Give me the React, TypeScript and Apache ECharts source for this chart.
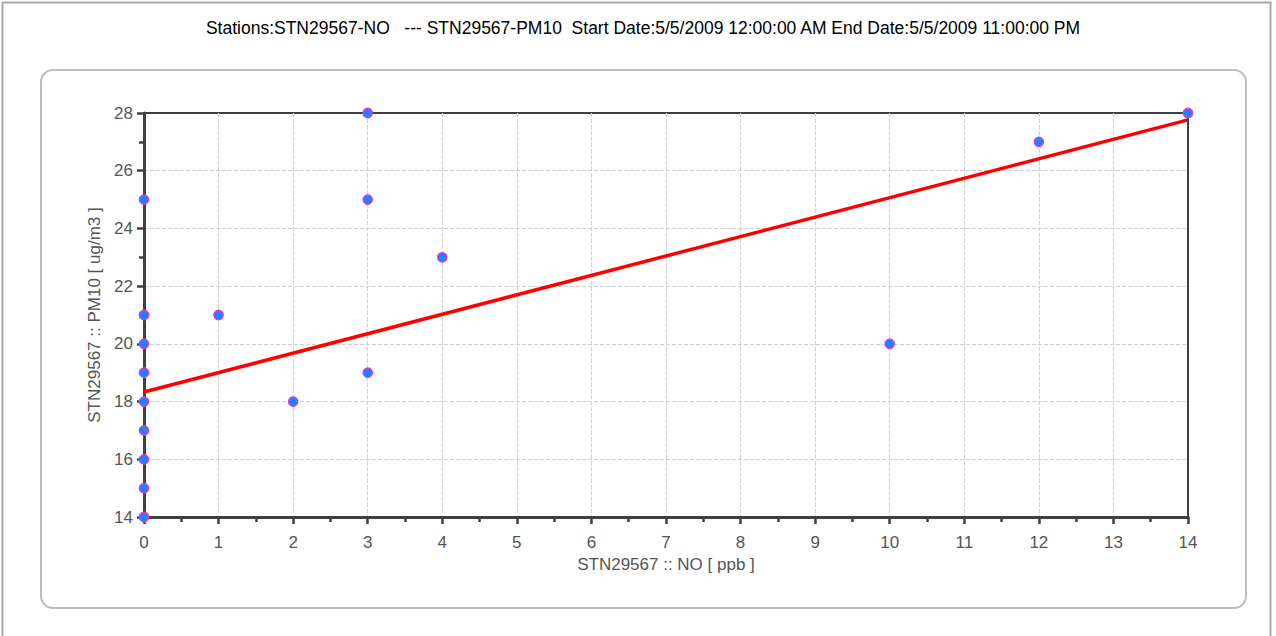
import React, { useEffect, useRef } from "react";
import * as echarts from "echarts";

const titleText =
  "Stations:STN29567-NO   --- STN29567-PM10  Start Date:5/5/2009 12:00:00 AM End Date:5/5/2009 11:00:00 PM";
const xAxisName = "STN29567 :: NO [ ppb ]";
const yAxisName = "STN29567 :: PM10 [ ug/m3 ]";

const noValues = [0, 0, 0, 0, 0, 0, 0, 0, 0, 1, 2, 3, 3, 3, 4, 10, 12, 14];
const pm10Values = [14, 15, 16, 17, 18, 19, 20, 21, 25, 21, 18, 19, 25, 28, 23, 20, 27, 28];

const trendX = [0, 14];
const trendY = [18.33, 27.76];

export default function App() {
  const ref = useRef<HTMLDivElement>(null);
  useEffect(() => {
    document.body.style.margin = "0";
    const chart = echarts.init(ref.current!, null, { renderer: "svg" });
    const axisColor = "#404040";
    const labelColor = "#555555";
    const font = "Liberation Sans, Arial, sans-serif";
    chart.setOption({
      animation: false,
      backgroundColor: "#ffffff",
      textStyle: { fontFamily: font },
      grid: {
        left: 144,
        right: 88,
        top: 113,
        bottom: 119,
        show: true,
        borderColor: "#000000",
        borderWidth: 1.5,
        backgroundColor: "transparent",
      },
      graphic: [
        {
          type: "rect",
          shape: { x: 2.5, y: 2.5, width: 1268, height: 700 },
          style: { fill: "none", stroke: "#a8a8a8", lineWidth: 2 },
          silent: true,
          z: -10,
        },
        {
          type: "rect",
          shape: { x: 41, y: 70, width: 1205, height: 538, r: 12 },
          style: { fill: "none", stroke: "#bdbdbd", lineWidth: 2 },
          silent: true,
          z: -10,
        },
        {
          type: "text",
          x: 643,
          y: 28,
          style: {
            text: titleText,
            fill: "#000000",
            font: "17.5px 'Liberation Sans', Arial, sans-serif",
            textAlign: "center",
            textVerticalAlign: "middle",
          },
        },
      ],
      xAxis: {
        type: "value",
        min: 0,
        max: 14,
        interval: 1,
        name: xAxisName,
        nameLocation: "middle",
        nameGap: 39,
        nameTextStyle: { color: labelColor, fontSize: 17 },
        axisLine: { show: true, onZero: false, lineStyle: { color: axisColor, width: 3 } },
        axisTick: { show: true, length: 7, lineStyle: { color: axisColor, width: 2.5 } },
        minorTick: { show: true, splitNumber: 2, length: 5, lineStyle: { color: axisColor, width: 2.5 } },
        axisLabel: { color: labelColor, fontSize: 17, margin: 17 },
        splitLine: {
          show: true,
          showMinLine: false,
          showMaxLine: false,
          lineStyle: { color: "#d0d0d0", type: "dashed", width: 1 },
        },
      },
      yAxis: {
        type: "value",
        min: 14,
        max: 28,
        interval: 2,
        name: yAxisName,
        nameLocation: "middle",
        nameGap: 41,
        nameRotate: 90,
        nameTextStyle: { color: labelColor, fontSize: 17 },
        axisLine: { show: true, onZero: false, lineStyle: { color: axisColor, width: 3 } },
        axisTick: { show: true, length: 7, lineStyle: { color: axisColor, width: 2.5 } },
        minorTick: { show: true, splitNumber: 2, length: 5, lineStyle: { color: axisColor, width: 2.5 } },
        axisLabel: { color: labelColor, fontSize: 17, margin: 11 },
        splitLine: {
          show: true,
          showMinLine: false,
          showMaxLine: false,
          lineStyle: { color: "#d0d0d0", type: "dashed", width: 1 },
        },
      },
      series: [
        {
          type: "line",
          data: trendX.map((x, i) => [x, trendY[i]]),
          showSymbol: false,
          symbol: "none",
          lineStyle: { color: "#ff0000", width: 3.5 },
          z: 3,
          silent: true,
        },
        {
          type: "scatter",
          data: noValues.map((x, i) => [x, pm10Values[i]]),
          symbol: "circle",
          symbolSize: 9.5,
          clip: false,
          itemStyle: { color: "#1a84ff", borderColor: "#ff2bc4", borderWidth: 1.2, opacity: 1 },
          z: 5,
        },
      ],
    });
    return () => chart.dispose();
  }, []);
  return <div ref={ref} style={{ width: 1276, height: 636 }} />;
}
